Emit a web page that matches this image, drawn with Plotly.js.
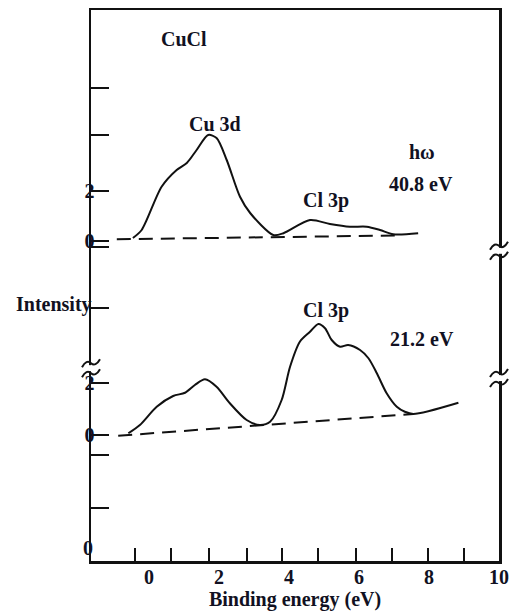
<!DOCTYPE html>
<html>
<head>
<meta charset="utf-8">
<script src="https://cdn.plot.ly/plotly-3.0.1.min.js"></script>
<style>html,body{margin:0;padding:0;background:#fff;}#chart{width:515px;height:615px;}</style>
</head>
<body>
<div id="chart"></div>
<script>
// Binding energy (eV) and intensity (arbitrary, offset units as drawn)
const energy408 = [-0.46, -0.21, 0.36, 0.79, 1.08, 1.36, 1.69, 1.93, 2.22, 2.6, 2.89, 3.55, 3.84, 4.6, 5.17, 5.74, 6.22, 6.6, 6.98, 7.69];
const intensity408 = [12.88, 13.2, 14.93, 15.6, 15.88, 16.4, 17.0, 16.88, 16.0, 14.53, 13.88, 13.0, 13.07, 13.6, 13.44, 13.33, 13.33, 13.2, 13.03, 13.07];
const base408E = [-0.92, 7.03];
const base408I = [12.83, 12.98];

const energy212 = [-0.59, -0.26, 0.22, 0.69, 1.03, 1.31, 1.6, 1.93, 2.31, 2.79, 3.17, 3.46, 3.79, 4.03, 4.31, 4.6, 4.84, 5.03, 5.22, 5.46, 5.69, 6.03, 6.27, 6.51, 6.79, 7.08, 7.31, 7.55, 8.84];
const intensity212 = [5.07, 5.4, 6.13, 6.56, 6.69, 7.0, 7.23, 6.93, 6.27, 5.6, 5.4, 5.53, 6.4, 7.73, 8.73, 9.13, 9.44, 9.27, 8.8, 8.53, 8.6, 8.4, 8.07, 7.47, 6.67, 6.13, 5.93, 5.84, 6.29];
const base212E = [-0.88, 7.55];
const base212I = [4.97, 5.84];

const xTickVals = [0, 2, 4, 6, 8, 10];
const xTickText = ['0', '2', '4', '6', '8', '10'];
const xMarkVals = [-0.4, 0.62, 1.72, 2.79, 3.79, 4.83, 5.91, 6.95, 7.98, 9.0];
const yTickVals = [2.08, 4.2, 5.0, 7.08, 10.08, 12.52, 12.76, 14.76, 17.0, 18.88];
const yTickText = ['', '', '0', '2', '', '', '0', '2', '', ''];

const ink = '#111122';
const serif = 'Liberation Serif, Times New Roman, serif';
const fnt = (s) => ({family: serif, size: s, color: ink, weight: 'bold'});

const traces = [
  {x: base408E, y: base408I, mode: 'lines', line: {color: '#111', width: 2, dash: '14px,8px'}, showlegend: false, hoverinfo: 'skip'},
  {x: energy408, y: intensity408, mode: 'lines', line: {color: '#111', width: 2, shape: 'spline', smoothing: 0.8}, showlegend: false, name: '40.8 eV'},
  {x: base212E, y: base212I, mode: 'lines', line: {color: '#111', width: 2, dash: '14px,8px'}, showlegend: false, hoverinfo: 'skip'},
  {x: energy212, y: intensity212, mode: 'lines', line: {color: '#111', width: 2, shape: 'spline', smoothing: 0.8}, showlegend: false, name: '21.2 eV'}
];

function brk(yPaper, xPaper) {
  return [
    {type: 'rect', xref: 'paper', yref: 'paper', xsizemode: 'pixel', ysizemode: 'pixel', xanchor: xPaper, yanchor: yPaper,
     x0: -3, x1: 3, y0: -3, y1: 3, fillcolor: '#fff', line: {width: 0}, layer: 'above'},
    {type: 'path', xref: 'paper', yref: 'paper', xsizemode: 'pixel', ysizemode: 'pixel', xanchor: xPaper, yanchor: yPaper,
     path: 'M -9,1 Q -4.5,9 0,5 T 9,9', line: {color: '#111', width: 2}, layer: 'above'},
    {type: 'path', xref: 'paper', yref: 'paper', xsizemode: 'pixel', ysizemode: 'pixel', xanchor: xPaper, yanchor: yPaper,
     path: 'M -9,-9 Q -4.5,-1 0,-5 T 9,-1', line: {color: '#111', width: 2}, layer: 'above'}
  ];
}

const ann = (x, y, text, extra) => Object.assign({x: x, y: y, text: text, showarrow: false, xanchor: 'center', yanchor: 'middle', font: fnt(20)}, extra || {});

const layout = {
  width: 515, height: 615,
  margin: {l: 91, r: 16, t: 10, b: 54},
  paper_bgcolor: '#fff', plot_bgcolor: '#fff',
  showlegend: false,
  xaxis: {
    range: [-1.657, 10.0], showgrid: false, zeroline: false,
    showline: true, mirror: true, linecolor: '#111', linewidth: 2.5,
    tickmode: 'array', tickvals: xTickVals, ticktext: xTickText, ticks: '',
    ticklabelstandoff: -4,
    minor: {tickmode: 'array', tickvals: xMarkVals, ticks: 'inside', ticklen: 13, tickwidth: 2, tickcolor: '#111', showgrid: false},
    tickfont: fnt(20),
    title: {text: 'Binding energy (eV)', font: fnt(20), standoff: 4}
  },
  yaxis: {
    range: [-0.04, 22.0], showgrid: false, zeroline: false,
    showline: true, mirror: true, linecolor: '#111', linewidth: 2.5,
    tickmode: 'array', tickvals: yTickVals, ticktext: yTickText,
    ticks: 'inside', ticklen: 18, tickwidth: 2, tickcolor: '#111',
    ticklabelstandoff: -10,
    tickfont: fnt(20)
  },
  annotations: [
    ann(1.0, 20.84, 'CuCl'),
    ann(1.886, 17.44, 'Cu 3d'),
    ann(5.057, 14.4, 'Cl 3p'),
    ann(7.8, 16.32, 'hω'),
    ann(7.77, 15.04, '40.8 eV'),
    ann(5.057, 10.0, 'Cl 3p'),
    ann(7.8, 8.84, '21.2 eV'),
    ann(-0.0907, 10.24, 'Intensity', {xref: 'paper'}),
    ann(-0.0074, 0.48, '0', {xref: 'paper'})
  ],
  shapes: [].concat(brk(0.350, 0), brk(0.563, 1), brk(0.332, 1))
};

Plotly.newPlot('chart', traces, layout, {displayModeBar: false, staticPlot: true});
</script>
</body>
</html>
